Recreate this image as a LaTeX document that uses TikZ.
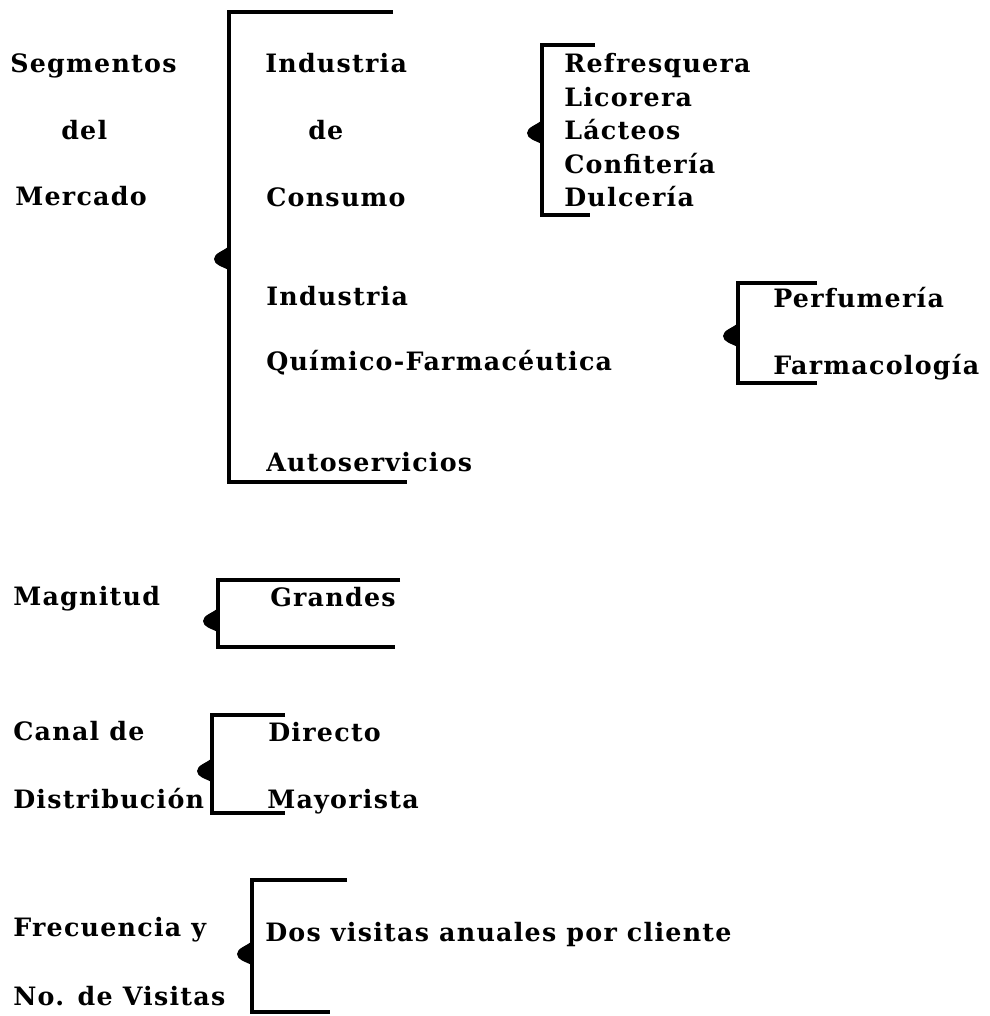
\documentclass[tikz,border=0pt]{standalone}
\usepackage{fontspec}
\setmainfont[LetterSpace=5]{DejaVu Serif}
\usetikzlibrary{positioning}

\begin{document}
\begin{tikzpicture}[x=0.025cm,y=-0.025cm,
  txt/.style={font=\fontsize{18}{21}\selectfont\bfseries,anchor=base west,inner sep=0pt},
  llave/.style={line width=2.2pt},
  punta/.pic={\fill (0,-12) .. controls (-5,-7) and (-15,-5) .. (-15,1) .. controls (-15,7) and (-6,9) .. (0,12) -- cycle;}]
\useasboundingbox (0,0) rectangle (989,1016);
% segmentos del mercado
\node[txt] (seg) at (10,73) {Segmentos};
\node[txt] (del) at (61,140) {del};
\node[txt] (mer) at (15,206) {Mercado};
\draw[llave] (393,12) -| (229,482) -- (407,482);
\pic at (229,258) {punta};
\node[txt] (ind1) at (265,73) {Industria};
\node[txt] (de) at (308,140) {de};
\node[txt] (cons) at (266,207) {Consumo};
\node[txt] (ind2) at (266,306) {Industria};
\node[txt] (quim) at (266,371) {Químico-Farmacéutica};
\node[txt] (auto) at (266,471) {Autoservicios};
% consumo
\draw[llave] (595,45) -| (542,215) -- (590,215);
\pic at (542,132) {punta};
\node[txt] (refr) at (564,73) {Refresquera};
\node[txt] (lico) at (564,107) {Licorera};
\node[txt] (lact) at (564,140) {Lácteos};
\node[txt] (conf) at (564,174) {Confitería};
\node[txt] (dulc) at (564,207) {Dulcería};
% quimico-farmaceutica
\draw[llave] (817,283) -| (738,383) -- (817,383);
\pic at (738,335) {punta};
\node[txt] (perf) at (773,308) {Perfumería};
\node[txt] (farm) at (773,374) {Farmacología};
% magnitud
\node[txt] (mag) at (13,605) {Magnitud};
\draw[llave] (400,580) -| (218,647) -- (395,647);
\pic at (218,620) {punta};
\node[txt] (gran) at (270,606) {Grandes};
% canal
\node[txt] (can) at (13,740) {Canal de};
\node[txt] (dist) at (13,808) {Distribución};
\draw[llave] (285,715) -| (212,813) -- (285,813);
\pic at (212,770) {punta};
\node[txt] (dir) at (268,741) {Directo};
\node[txt] (may) at (267,808) {Mayorista};
% frecuencia
\node[txt] (frec) at (13,936) {Frecuencia y};
\node[txt] (nvis) at (13,1005) {No. de Visitas};
\draw[llave] (347,880) -| (252,1012) -- (330,1012);
\pic at (252,953) {punta};
\node[txt] (dos) at (265,941) {Dos visitas anuales por cliente};
\end{tikzpicture}
\end{document}
